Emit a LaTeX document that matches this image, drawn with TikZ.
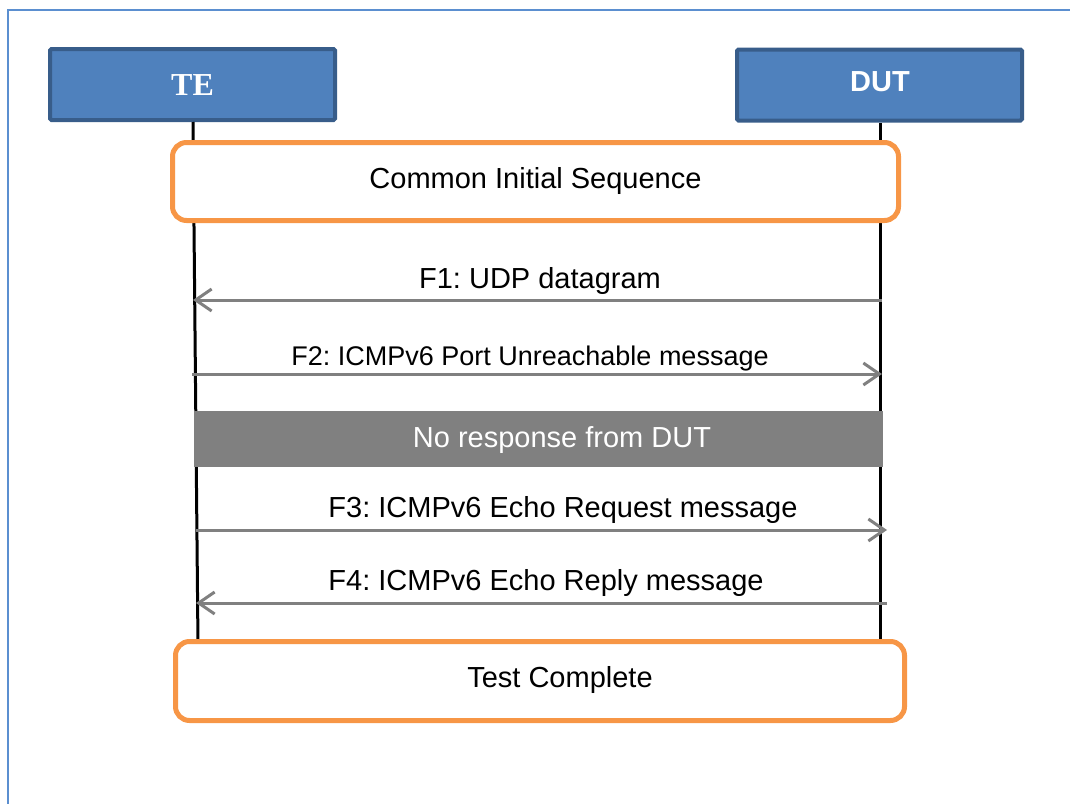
\documentclass[tikz,border=0pt]{standalone}
\usepackage{fontspec}
\newfontfamily\arialfont{Liberation Sans}
\newfontfamily\timesfont{Liberation Serif}
\usetikzlibrary{arrows.meta}
\definecolor{hdrfill}{HTML}{4F81BD}
\definecolor{hdrline}{HTML}{385D8A}
\definecolor{phase}{HTML}{F79646}
\definecolor{msggray}{HTML}{808080}
\definecolor{framecol}{HTML}{5B8FD0}
\frenchspacing
\begin{document}
\begin{tikzpicture}[x=1pt,y=-1pt,
  frameline/.style={draw=framecol,line width=1.6pt},
  header/.style={draw=hdrline,fill=hdrfill,line width=4pt,rounded corners=1.5pt,
    minimum width=285pt,minimum height=71pt,inner sep=0pt},
  lifeline/.style={draw=black,line width=3pt},
  phasebox/.style={draw=phase,fill=white,line width=5pt,rounded corners=14pt,inner sep=0pt},
  grayband/.style={fill=msggray,inner sep=0pt},
  msg/.style={draw=msggray,line width=3pt,-{Straight Barb[length=16pt,width=22pt]}},
  txt/.style={font=\arialfont\fontsize{29}{34}\selectfont,anchor=base,inner sep=0pt},
  smalltxt/.style={font=\arialfont\fontsize{27}{32}\selectfont,anchor=base,inner sep=0pt}]
\useasboundingbox (0,0) rectangle (1070,803);

% outer frame
\draw[frameline] (8,810) -- (8,10) -- (1075,10);

% participants
\node[header] (te) at (192.5,84.5) {};
\node[header] (dut) at (879.5,85) {};
\node[font=\timesfont\bfseries\fontsize{32}{36}\selectfont,text=white,anchor=base,inner sep=0pt]
  (teLabel) at (192.5,95.5) {TE};
\node[font=\arialfont\bfseries\fontsize{29}{34}\selectfont,text=white,anchor=base,inner sep=0pt]
  (dutLabel) at (880,91) {DUT};

% lifelines
\coordinate (teTop) at (193,122);
\coordinate (teBot) at (198,645);
\coordinate (dutTop) at (880,123);
\coordinate (dutBot) at (880,645);
\draw[lifeline] (teTop) -- (teBot);
\draw[lifeline] (dutTop) -- (dutBot);

% opening and closing phases
\node[phasebox,minimum width=726pt,minimum height=78pt] (cis) at (535.5,181.5) {};
\node[txt] (cisLabel) at (535.5,188) {Common Initial Sequence};
\node[phasebox,minimum width=729pt,minimum height=79pt] (done) at (540,681) {};
\node[txt] (doneLabel) at (560,687) {Test Complete};

% messages
\coordinate (f1d) at (882,300);
\coordinate (f1t) at (193,300);
\draw[msg] (f1d) -- (f1t);
\node[txt] (f1) at (540,288) {F1: UDP datagram};

\coordinate (f2t) at (192,374);
\coordinate (f2d) at (882,374);
\draw[msg] (f2t) -- (f2d);
\node[smalltxt] (f2) at (530,365) {F2: ICMPv6 Port Unreachable message};

\node[grayband,minimum width=689pt,minimum height=56pt] (wait) at (538.5,439) {};
\node[txt,text=white] (waitLabel) at (562,447) {No response from DUT};

\coordinate (f3t) at (196,530);
\coordinate (f3d) at (887,530);
\draw[msg] (f3t) -- (f3d);
\node[txt] (f3) at (563,517) {F3: ICMPv6 Echo Request message};

\coordinate (f4d) at (887,603);
\coordinate (f4t) at (196,603);
\draw[msg] (f4d) -- (f4t);
\node[txt] (f4) at (546,590) {F4: ICMPv6 Echo Reply message};
\end{tikzpicture}
\end{document}
